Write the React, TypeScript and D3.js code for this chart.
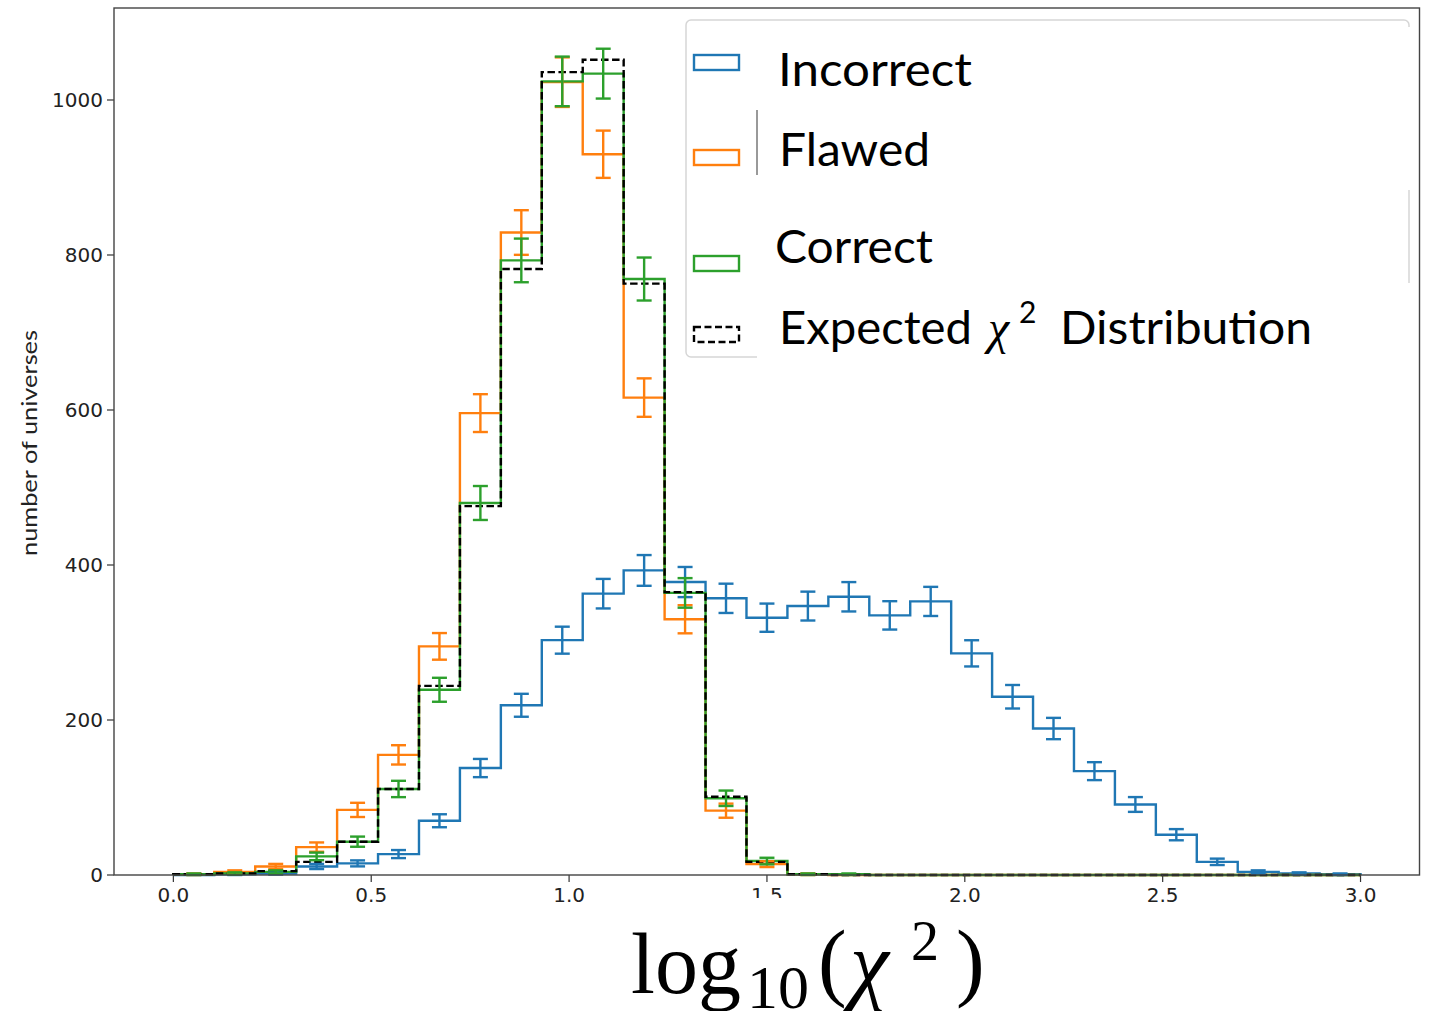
import React from 'react';
import * as d3 from 'd3';

// ---- data (counts per bin, 29 equal bins over [0, 3]) ----
const N_BINS = 29;
const X_LO = 0;
const X_HI = 3;
const incorrect = [0, 1, 2, 11, 15, 27, 70, 138, 219, 303, 363, 393, 378, 357, 332, 347, 359, 335, 353, 286, 230, 189, 134, 91, 52, 17, 4, 2, 1];
const flawed = [1, 4, 11, 36, 84, 155, 295, 596, 829, 1023, 930, 616, 330, 83, 14, 1, 0, 0, 0, 0, 0, 0, 0, 0, 0, 0, 0, 0, 0];
const correct = [1, 2, 4, 24, 43, 111, 239, 480, 793, 1024, 1034, 769, 364, 99, 18, 1, 1, 0, 0, 0, 0, 0, 0, 0, 0, 0, 0, 0, 0];
const expected = [1, 2, 5, 17, 43, 111, 244, 476, 782, 1036, 1052, 763, 365, 101, 17, 1, 0, 0, 0, 0, 0, 0, 0, 0, 0, 0, 0, 0, 0];

const xTicks = [0, 0.5, 1.0, 1.5, 2.0, 2.5, 3.0];
const yTicks = [0, 200, 400, 600, 800, 1000];
const seriesNames = ['Incorrect', 'Flawed', 'Correct'];
const seriesColors = ['#1f77b4', '#ff7f0e', '#2ca02c'];
const yLabel = 'number of universes';

export default function App() {
  const x = d3.scaleLinear().domain([-0.15, 3.149]).range([114, 1419.5]);
  const y = d3.scaleLinear().domain([0, 1118.7]).range([875, 8]);
  const edges = d3.range(N_BINS + 1).map((i) => X_LO + ((X_HI - X_LO) * i) / N_BINS);

  const line = d3
    .line<[number, number]>()
    .x((d) => x(d[0]))
    .y((d) => y(d[1]));

  const stepPath = (vals: number[]) => {
    const pts: [number, number][] = [[edges[0], 0]];
    vals.forEach((v, i) => {
      pts.push([edges[i], v]);
      pts.push([edges[i + 1], v]);
    });
    pts.push([edges[N_BINS], 0]);
    return line(pts) || '';
  };

  const errorBars = (vals: number[], color: string, key: string) =>
    vals.map((v, i) => {
      if (v <= 0) return null;
      const c = (edges[i] + edges[i + 1]) / 2;
      const e = Math.sqrt(v);
      const cx = x(c);
      const y1 = y(v - e);
      const y2 = y(v + e);
      return (
        <g key={key + i} stroke={color} strokeWidth={2.4} fill="none">
          <line x1={cx} x2={cx} y1={y1} y2={y2} />
          <line x1={cx - 7.5} x2={cx + 7.5} y1={y1} y2={y1} />
          <line x1={cx - 7.5} x2={cx + 7.5} y1={y2} y2={y2} />
        </g>
      );
    });

  const allSeries = [incorrect, flawed, correct];
  const legendRows = [
    { y: 55, label: seriesNames[0], tx: 778, tl: 194, base: 86 },
    { y: 150, label: seriesNames[1], tx: 779, tl: 151, base: 166 },
    { y: 256, label: seriesNames[2], tx: 775, tl: 158, base: 263 },
  ];

  return (
    <svg
      width={1430}
      height={1011}
      style={{ position: 'absolute', left: 0, top: 0, display: 'block', background: '#fff' }}
    >
      <rect x={0} y={0} width={1430} height={1011} fill="#fff" />

      {/* histograms */}
      {allSeries.map((vals, k) => (
        <path key={'h' + k} d={stepPath(vals)} fill="none" stroke={seriesColors[k]} strokeWidth={2.4} strokeLinejoin="miter" />
      ))}
      <path d={stepPath(expected)} fill="none" stroke="#000" strokeWidth={2.4} strokeDasharray="7.5,3.5" />

      {/* error bars */}
      {allSeries.map((vals, k) => errorBars(vals, seriesColors[k], 'e' + k))}

      {/* y ticks */}
      {yTicks.map((t) => (
        <g key={'yt' + t}>
          <line x1={107} x2={114} y1={y(t)} y2={y(t)} stroke="#333" strokeWidth={1.2} />
          <text
            x={103}
            y={y(t)}
            dy="0.36em"
            textAnchor="end"
            fontFamily="DejaVu Sans"
            fontSize={20}
            fill="#222"
          >
            {t}
          </text>
        </g>
      ))}
      {/* x ticks */}
      {xTicks.map((t) => (
        <g key={'xt' + t}>
          <line x1={x(t)} x2={x(t)} y1={875} y2={882} stroke="#333" strokeWidth={1.2} />
          <text x={x(t)} y={902} textAnchor="middle" fontFamily="DejaVu Sans" fontSize={20} fill="#222">
            {t.toFixed(1)}
          </text>
        </g>
      ))}

      {/* frame */}
      <rect x={114} y={8} width={1305.5} height={867} fill="none" stroke="#444" strokeWidth={1.4} />

      {/* y label */}
      <text
        transform="translate(37,443) rotate(-90)"
        textAnchor="middle"
        fontFamily="Lato"
        fontSize={21}
        fill="#222"
        textLength={226}
        lengthAdjust="spacingAndGlyphs"
      >
        {yLabel}
      </text>

      {/* legend frame */}
      <rect x={686} y={20} width={723} height={337} rx={5} ry={5} fill="#fff" stroke="#d6d6d6" strokeWidth={1.5} />
      {/* overlaid text boxes (white) */}
      <rect x={757} y={27} width={661} height={163} fill="#fff" />
      <rect x={757} y={283} width={661} height={80} fill="#fff" />
      <line x1={757} x2={757} y1={110} y2={175} stroke="#555" strokeWidth={1.2} />

      {legendRows.map((r, k) => (
        <g key={'lg' + k}>
          <rect x={694} y={r.y} width={45} height={15} fill="none" stroke={seriesColors[k]} strokeWidth={2.4} />
          <text
            x={r.tx}
            y={r.base}
            fontFamily="Lato"
            fontSize={46}
            fill="#000"
            textLength={r.tl}
            lengthAdjust="spacingAndGlyphs"
          >
            {r.label}
          </text>
        </g>
      ))}
      <rect x={694} y={327} width={45} height={15} fill="none" stroke="#000" strokeWidth={2.4} strokeDasharray="7,3.5" />
      <text x={779} y={344} fontFamily="Lato" fontSize={46} fill="#000" textLength={193} lengthAdjust="spacingAndGlyphs">
        Expected
      </text>
      <text x={988} y={344} fontFamily="Liberation Serif" fontStyle="italic" fontSize={48} fill="#000">
        χ
      </text>
      <text x={1019} y={323} fontFamily="Lato" fontSize={30} fill="#000">
        2
      </text>
      <text x={1060} y={344} fontFamily="Lato" fontSize={46} fill="#000" textLength={252} lengthAdjust="spacingAndGlyphs">
        Distribution
      </text>

      {/* x label box */}
      <rect x={700} y={898} width={240} height={113} fill="#fff" />
      <g fontFamily="Liberation Serif" fill="#000">
        <text x={631} y={993} fontSize={86}>
          log
        </text>
        <text x={747} y={1008} fontSize={62}>
          10
        </text>
        <text x={818} y={990} fontSize={86}>
          (
        </text>
        <text x={850} y={993} fontSize={88} fontStyle="italic">
          χ
        </text>
        <text x={911} y={960} fontSize={56}>
          2
        </text>
        <text x={956} y={990} fontSize={86}>
          )
        </text>
      </g>
    </svg>
  );
}
